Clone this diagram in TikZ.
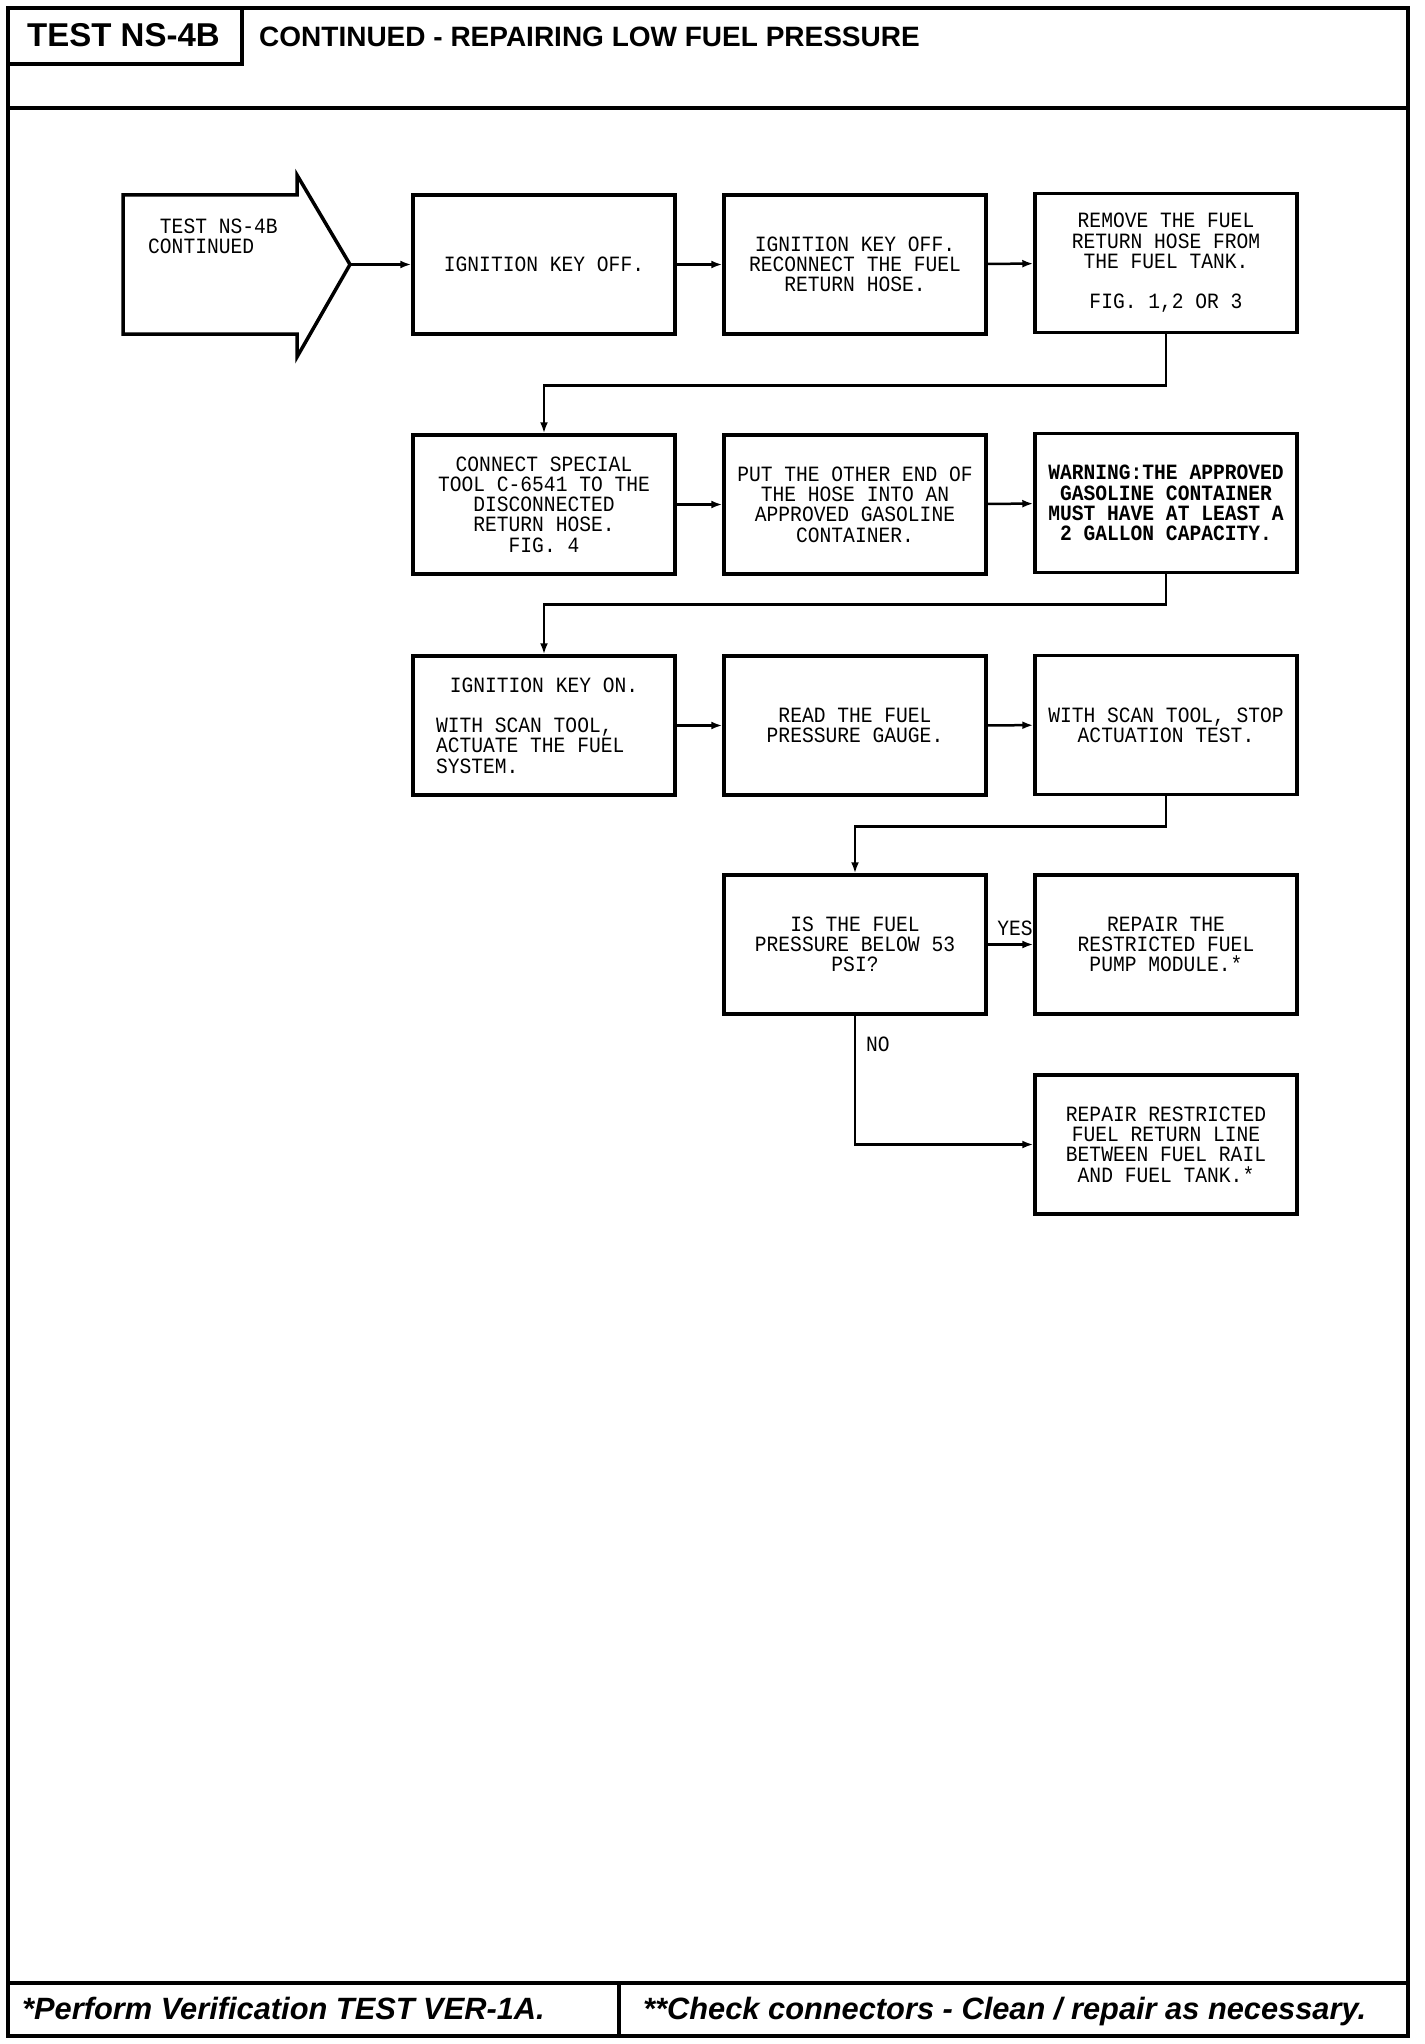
\documentclass[tikz,border=0pt]{standalone}
\usepackage{fontspec}
\setmainfont{Liberation Sans}
\newfontfamily\plotfont[FakeStretch=0.9]{Liberation Mono}
\usetikzlibrary{arrows.meta}
\usetikzlibrary{positioning}
\newcommand{\boxfont}{\plotfont\fontsize{21.8}{20.3}\selectfont}
\newcommand{\notefont}{\bfseries\itshape\fontsize{30.8}{30.8}\selectfont}
\tikzset{
	flowbox/.style={draw, line width=3.5pt, minimum width=262pt, minimum height=139pt, inner sep=0pt, align=center, font=\boxfont},
	flowline/.style={line width=2.5pt, -{Latex[length=11pt,width=8pt]}},
	frameline/.style={line width=4pt},
	flowlabel/.style={inner sep=0pt, font=\boxfont}
}

\begin{document}
\begin{tikzpicture}[x=1pt, y=-1pt]

					\useasboundingbox (0,0) rectangle (1424,2044);

					\draw[frameline] (8,8) rectangle (1408,2036);
					\draw[frameline] (8,8) rectangle (242,64);
					\draw[frameline] (8,108) -- (1408,108);
					\draw[frameline] (8,1983) -- (1408,1983);
					\draw[frameline] (619,1983) -- (619,2036);

					\node[anchor=base west, inner sep=0pt, font=\bfseries\fontsize{33}{33}\selectfont] (testname) at (27,47) {TEST NS-4B};
					\node[anchor=base west, inner sep=0pt, font=\bfseries\fontsize{28}{28}\selectfont] (title) at (259,47) {CONTINUED - REPAIRING LOW FUEL PRESSURE};

					\node[anchor=base west, inner sep=0pt, font=\notefont] (noteone) at (22,2019) {*Perform Verification TEST VER-1A.};
					\node[anchor=base west, inner sep=0pt, font=\notefont] (notetwo) at (643,2019) {**Check connectors - Clean / repair as necessary.};

					\draw[line width=3.5pt] (123,195) -- (297,195) -- (297,175) -- (350,264.5) -- (297,357) -- (297,334) -- (123,334) -- cycle;
					\coordinate (starttip) at (350,264.5);
					\node[anchor=west, align=left, inner sep=0pt, font=\boxfont] (starttext) at (148,236) {~TEST NS-4B\\CONTINUED};

					\node[flowbox] (b1) at (544,264.5) {IGNITION KEY OFF.};
					\node[flowbox] (b2) at (855,264.5) {IGNITION KEY OFF.\\RECONNECT THE FUEL\\RETURN HOSE.};
					\node[flowbox] (b3) at (1166,263) {REMOVE THE FUEL\\RETURN HOSE FROM\\THE FUEL TANK.\\[20pt]FIG. 1,2 OR 3};

					\node[flowbox] (b4) at (544,504.5) {CONNECT SPECIAL\\TOOL C-6541 TO THE\\DISCONNECTED\\RETURN HOSE.\\FIG. 4};
					\node[flowbox] (b5) at (855,504.5) {PUT THE OTHER END OF\\THE HOSE INTO AN\\APPROVED GASOLINE\\CONTAINER.};
					\node[flowbox, font=\boxfont\bfseries] (b6) at (1166,503) {WARNING:THE APPROVED\\GASOLINE CONTAINER\\MUST HAVE AT LEAST A\\2 GALLON CAPACITY.};

					\node[flowbox, align=left] (b7) at (544,725.5) {\makebox[216pt]{IGNITION KEY ON.}\\[20pt]WITH SCAN TOOL,\\ACTUATE THE FUEL\\SYSTEM.};
					\node[flowbox] (b8) at (855,725.5) {READ THE FUEL\\PRESSURE GAUGE.};
					\node[flowbox] (b9) at (1166,725) {WITH SCAN TOOL, STOP\\ACTUATION TEST.};

					\node[flowbox] (b10) at (855,944.5) {IS THE FUEL\\PRESSURE BELOW 53\\PSI?};
					\node[flowbox] (b11) at (1166,944.5) {REPAIR THE\\RESTRICTED FUEL\\PUMP MODULE.*};
					\node[flowbox] (b12) at (1166,1144.5) {REPAIR RESTRICTED\\FUEL RETURN LINE\\BETWEEN FUEL RAIL\\AND FUEL TANK.*};

					\draw[flowline] (starttip) -- (b1);
					\draw[flowline] (b1) -- (b2);
					\draw[flowline] (b2) -- (b3);
					\draw[flowline] (b3.south) -- ++(0,51) -| (b4.north);
					\draw[flowline] (b4) -- (b5);
					\draw[flowline] (b5) -- (b6);
					\draw[flowline] (b6.south) -- ++(0,30) -| (b7.north);
					\draw[flowline] (b7) -- (b8);
					\draw[flowline] (b8) -- (b9);
					\draw[flowline] (b9.south) -- ++(0,30) -| (b10.north);
					\draw[flowline] (b10) -- node[flowlabel, pos=0.6, above=8pt] (yes) {YES} (b11);
					\draw[flowline] (b10.south) |- (b12.west);
					\node[flowlabel, anchor=west] (no) at (866,1044) {NO};

\end{tikzpicture}
\end{document}
